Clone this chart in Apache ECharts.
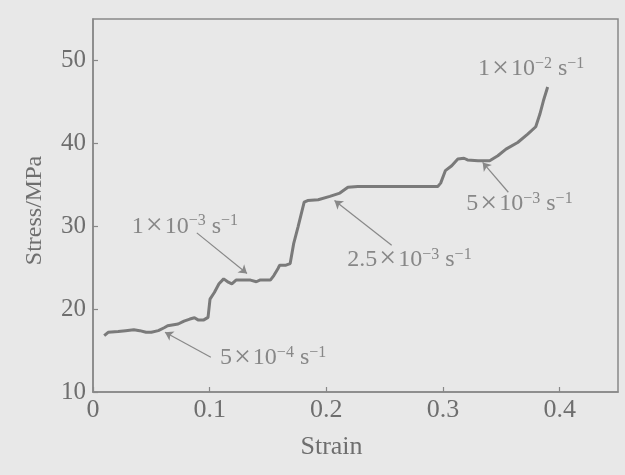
<!DOCTYPE html>
<html>
<head>
<meta charset="utf-8">
<script src="https://cdn.jsdelivr.net/npm/echarts@6/dist/echarts.min.js"></script>
<style>
html,body{margin:0;padding:0;background:#e8e8e8;}
#c{width:625px;height:475px;}
</style>
</head>
<body>
<div id="c"></div>
<script>
// Curve (strain, stress in MPa)
const strain = [0.0096,0.013,0.0216,0.028,0.035,0.040,0.0455,0.050,0.056,0.061,0.064,0.073,0.078,0.083,0.087,0.090,0.095,0.0986,0.1003,0.104,0.108,0.112,0.116,0.119,0.1226,0.128,0.135,0.140,0.143,0.152,0.155,0.1586,0.160,0.1654,0.169,0.172,0.1757,0.181,0.184,0.193,0.203,0.2116,0.2185,0.227,0.261,0.2955,0.298,0.302,0.3075,0.3127,0.318,0.321,0.330,0.340,0.347,0.354,0.364,0.3726,0.3795,0.383,0.386,0.3897];
const stress = [16.8,17.2,17.3,17.4,17.5,17.4,17.2,17.2,17.4,17.75,18.0,18.2,18.55,18.8,18.95,18.7,18.7,19.0,21.2,22.0,23.05,23.65,23.25,23.05,23.5,23.5,23.5,23.3,23.5,23.5,24.05,24.9,25.3,25.3,25.5,27.9,29.9,32.9,33.1,33.2,33.6,34.0,34.7,34.8,34.8,34.8,35.2,36.7,37.3,38.1,38.2,38.0,37.9,37.9,38.5,39.3,40.1,41.1,42.0,43.5,45.1,46.8];

// Axis ticks
const xTicks = [0, 0.1, 0.2, 0.3, 0.4];
const yTicks = [10, 20, 30, 40, 50];

// Strain-rate annotations (data coordinates)
const rateMant = ['5', '1', '2.5', '5', '1'];
const rateExp = ['4', '3', '3', '3', '2'];
const labelX = [0.1088, 0.0332, 0.218, 0.320, 0.330];
const labelY = [14.1, 30.0, 26.0, 32.7, 49.0];
const arrowFrom = [[0.101, 14.2], [0.089, 29.2], [0.256, 27.7], [0.356, 34.1]];
const arrowTo = [[0.0617, 17.2], [0.132, 24.3], [0.207, 33.1], [0.334, 37.7]];

const FONT = "'Liberation Serif','Times New Roman',serif";
const TXT = '#6e6e6e';
const AX = '#888888';

const curve = strain.map((x, i) => [x, stress[i]]);
const labels = labelX.map((x, i) => ({
  value: [x, labelY[i]],
  label: { formatter: '{m|' + rateMant[i] + '}{x|\u00d7}{m|10}{s|\u2212' + rateExp[i] + '}{m| s}{s|\u22121}' }
}));
const arrows = arrowFrom.map((f, i) => [{ coord: f }, { coord: arrowTo[i] }]);

const chart = echarts.init(document.getElementById('c'));
chart.setOption({
  backgroundColor: '#e8e8e8',
  animation: false,
  grid: { left: 93, right: 7, top: 19, bottom: 83, show: true, borderColor: AX, borderWidth: 1.5, backgroundColor: 'transparent' },
  xAxis: {
    type: 'value', min: 0, max: 0.45, interval: 0.1,
    name: 'Strain', nameLocation: 'middle', nameGap: 42,
    nameTextStyle: { fontFamily: FONT, fontSize: 26, color: TXT, padding: [0, 48, 0, 0] },
    axisLine: { show: true, lineStyle: { color: AX, width: 1.5 } },
    axisTick: { show: true, inside: true, length: 5, lineStyle: { color: AX, width: 1.2 } },
    axisLabel: { fontFamily: FONT, fontSize: 26, color: TXT, margin: 5, showMaxLabel: false,
      formatter: v => xTicks.includes(Math.round(v * 10) / 10) ? String(Math.round(v * 10) / 10) : '' },
    splitLine: { show: false }
  },
  yAxis: {
    type: 'value', min: 10, max: 55, interval: 10,
    name: 'Stress/MPa', nameLocation: 'middle', nameGap: 46,
    nameTextStyle: { fontFamily: FONT, fontSize: 24, color: TXT, padding: [0, 10, 0, 0] },
    axisLine: { show: true, lineStyle: { color: AX, width: 1.5 } },
    axisTick: { show: true, inside: true, length: 5, lineStyle: { color: AX, width: 1.2 } },
    axisLabel: { fontFamily: FONT, fontSize: 25, color: TXT, margin: 7, showMaxLabel: false,
      formatter: v => yTicks.includes(v) ? String(v) : '' },
    splitLine: { show: false }
  },
  series: [
    {
      type: 'line', data: curve, symbol: 'none', smooth: false,
      lineStyle: { color: '#7a7a7a', width: 3 },
      markLine: {
        silent: true, symbol: ['none', 'arrow'], symbolSize: 8,
        lineStyle: { color: '#888888', width: 1.2, type: 'solid' },
        label: { show: false },
        data: arrows
      }
    },
    {
      type: 'scatter', data: labels, symbolSize: 0, silent: true,
      label: {
        show: true, position: 'right', distance: 0, color: TXT,
        rich: {
          m: { fontFamily: FONT, fontSize: 24, color: TXT, lineHeight: 26 },
          x: { fontFamily: FONT, fontSize: 30, color: TXT, lineHeight: 26, padding: [0, 2, 0, 2] },
          s: { fontFamily: FONT, fontSize: 16, color: TXT, lineHeight: 16, verticalAlign: 'top' }
        }
      }
    }
  ]
});
</script>
</body>
</html>
